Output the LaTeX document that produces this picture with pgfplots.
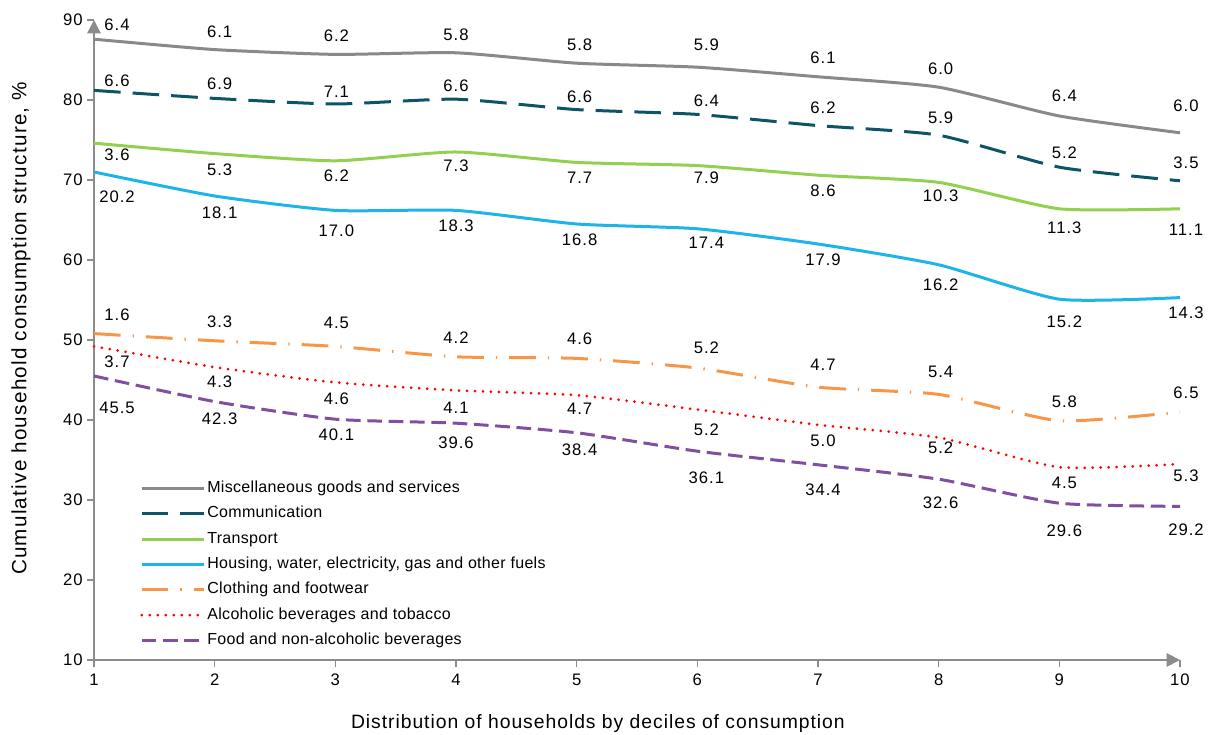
\documentclass[border=0pt]{standalone}
\usepackage{pgfplots}
\pgfplotsset{compat=1.18}
\usepackage{pgfplotstable}
\usepackage{fontspec}
\setmainfont{Liberation Sans}
\newfontfamily\lblfont[LetterSpace=6]{Liberation Sans}
\newfontfamily\xlabfont[LetterSpace=5]{Liberation Sans}
\newfontfamily\ylabfont[LetterSpace=6]{Liberation Sans}
\newfontfamily\legfont[LetterSpace=2]{Liberation Sans}
\usetikzlibrary{arrows.meta}

\definecolor{cMisc}{HTML}{898989}
\definecolor{cComm}{HTML}{0D5466}
\definecolor{cTrans}{HTML}{92D050}
\definecolor{cHous}{HTML}{1FB4E9}
\definecolor{cCloth}{HTML}{F79646}
\definecolor{cAlc}{HTML}{FF0000}
\definecolor{cFood}{HTML}{7F4FA1}
\definecolor{cAxis}{HTML}{8C8C8C}

% x, cumulative share, label (increment), label offset dy / dx (px)
\pgfplotstableread{
x y lab dy dx
1 87.6 6.4 14 23
2 86.3 6.1 18 5
3 85.7 6.2 19 1
4 85.9 5.8 18 0
5 84.6 5.8 18 3
6 84.1 5.9 22 9
7 82.9 6.1 19 5
8 81.6 6.0 18 2
9 78.0 6.4 20 5
10 75.9 6.0 27 6
}\misc
\pgfplotstableread{
x y lab dy dx
1 81.2 6.6 10 23
2 80.2 6.9 15 5
3 79.5 7.1 12 1
4 80.1 6.6 13 0
5 78.8 6.6 13 3
6 78.2 6.4 14 9
7 76.8 6.2 18 5
8 75.6 5.9 17 2
9 71.6 5.2 14 5
10 69.9 3.5 18 6
}\comm
\pgfplotstableread{
x y lab dy dx
1 74.6 3.6 -12 23
2 73.3 5.3 -16 5
3 72.4 6.2 -15 1
4 73.5 7.3 -14 0
5 72.2 7.7 -15 3
6 71.8 7.9 -12 9
7 70.6 8.6 -16 5
8 69.7 10.3 -13 2
9 66.4 11.3 -19 5
10 66.4 11.1 -21 6
}\trans
\pgfplotstableread{
x y lab dy dx
1 71.0 20.2 -25 23
2 68.0 18.1 -17 5
3 66.2 17.0 -20 1
4 66.2 18.3 -15 0
5 64.5 16.8 -16 3
6 63.9 17.4 -14 9
7 62.0 17.9 -16 5
8 59.4 16.2 -20 2
9 55.1 15.2 -23 5
10 55.3 14.3 -15 6
}\hous
\pgfplotstableread{
x y lab dy dx
1 50.8 1.6 19 23
2 49.9 3.3 19 5
3 49.2 4.5 24 1
4 47.9 4.2 19 0
5 47.7 4.6 20 3
6 46.5 5.2 20 9
7 44.1 4.7 22 5
8 43.2 5.4 23 2
9 39.9 5.8 19 5
10 41.0 6.5 19 6
}\cloth
\pgfplotstableread{
x y lab dy dx
1 49.2 3.7 -15 23
2 46.6 4.3 -15 5
3 44.7 4.6 -16 1
4 43.7 4.1 -17 0
5 43.1 4.7 -14 3
6 41.3 5.2 -20 9
7 39.4 5.0 -16 5
8 37.8 5.2 -10 2
9 34.1 4.5 -16 5
10 34.5 5.3 -12 6
}\alc
\pgfplotstableread{
x y lab dy dx
1 45.5 45.5 -32 23
2 42.3 42.3 -17 5
3 40.1 40.1 -16 1
4 39.6 39.6 -20 0
5 38.4 38.4 -17 3
6 36.1 36.1 -27 9
7 34.4 34.4 -25 5
8 32.6 32.6 -24 2
9 29.6 29.6 -28 5
10 29.2 29.2 -23 6
}\food

\pgfplotsset{
  ln/.style={smooth, tension=0.35, line width=2.25pt},
  lbl/.style={
    draw=none, forget plot,
    point meta=explicit symbolic,
    nodes near coords,
    visualization depends on={\thisrow{dy} \as \dy},
    visualization depends on={\thisrow{dx} \as \dx},
    every node near coord/.append style={anchor=center, text=black,
       font=\lblfont\fontsize{12.5}{14}\selectfont, inner sep=0pt,
       xshift={(\dx)*0.75pt}, yshift={(\dy)*0.75pt}},
  },
}

\begin{document}
\begin{tikzpicture}
\begin{axis}[
  name=ax,
  scale only axis, width=814.5pt, height=480pt,
  xmin=1, xmax=10, ymin=10, ymax=90,
  axis lines=left,
  axis line style={draw=cAxis, line width=1.5pt, -{Triangle[length=10pt,width=10pt]}},
  xtick={1,2,...,10}, ytick={10,20,...,90},
  tick align=outside, major tick length=5pt,
  tick style={draw=cAxis, line width=1.2pt},
  every tick label/.append style={font=\lblfont\fontsize{12.5}{14}\selectfont, text=black},
  xticklabel style={yshift=-2pt},
  /pgf/number format/assume math mode=true,
  xlabel={Distribution of households by deciles of consumption},
  ylabel={Cumulative household consumption structure, \%},
  xlabel style={font=\xlabfont\fontsize{14.5}{16}\selectfont,
     at={(axis description cs:0.464,-0.100)}, anchor=center},
  ylabel style={font=\ylabfont\fontsize{15.5}{17}\selectfont,
     at={(axis description cs:-0.0672,0.518)}, anchor=center},
  clip=false,
  legend style={at={(0.0424,0.283)}, anchor=north west, draw=none, fill=none,
     font=\legfont\fontsize{12}{14}\selectfont, row sep=5pt, inner sep=0pt,
     nodes={inner sep=1pt, text height=9pt, text depth=3pt}},
  legend cell align=left,
  legend image code/.code={\draw[#1] (0pt,0pt) -- (47pt,0pt);},
]
\addplot[cMisc, ln] table[x=x,y=y] {\misc};
\addlegendentry{Miscellaneous goods and services}
\addplot[cComm, ln, dash pattern=on 20pt off 9pt] table[x=x,y=y] {\comm};
\addlegendentry{Communication}
\addplot[cTrans, ln] table[x=x,y=y] {\trans};
\addlegendentry{Transport}
\addplot[cHous, ln] table[x=x,y=y] {\hous};
\addlegendentry{Housing, water, electricity, gas and other fuels}
\addplot[cCloth, ln, dash pattern=on 20pt off 9pt on 1pt off 9pt] table[x=x,y=y] {\cloth};
\addlegendentry{Clothing and footwear}
\addplot[cAlc, ln, line cap=round, dash pattern=on 0pt off 6pt] table[x=x,y=y] {\alc};
\addlegendentry{Alcoholic beverages and tobacco}
\addplot[cFood, ln, dash pattern=on 11pt off 5pt] table[x=x,y=y] {\food};
\addlegendentry{Food and non-alcoholic beverages}

\addplot[lbl] table[x=x,y=y,meta=lab] {\misc};
\addplot[lbl] table[x=x,y=y,meta=lab] {\comm};
\addplot[lbl] table[x=x,y=y,meta=lab] {\trans};
\addplot[lbl] table[x=x,y=y,meta=lab] {\hous};
\addplot[lbl] table[x=x,y=y,meta=lab] {\cloth};
\addplot[lbl] table[x=x,y=y,meta=lab] {\alc};
\addplot[lbl] table[x=x,y=y,meta=lab] {\food};
\end{axis}
\pgfresetboundingbox
\path ([shift={(-70.5pt,-56.25pt)}]ax.south west) rectangle ([shift={(27.75pt,15pt)}]ax.north east);
\end{tikzpicture}
\end{document}
